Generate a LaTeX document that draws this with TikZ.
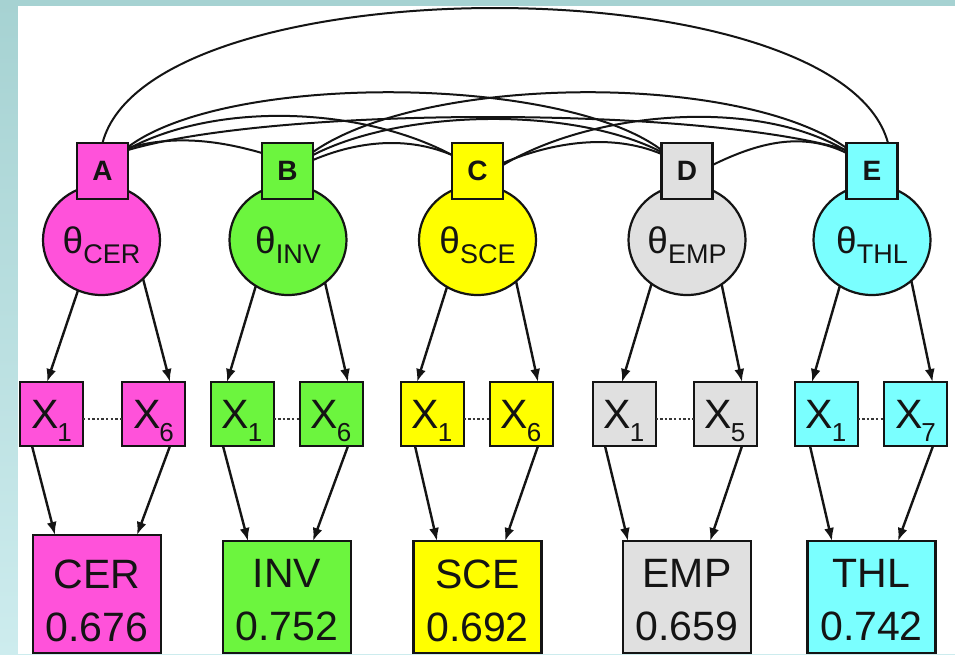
\documentclass[tikz,border=0pt]{standalone}
\usepackage{fontspec}
\usepackage{graphicx}
\setmainfont{Liberation Sans}
\usetikzlibrary{arrows.meta,shapes.geometric}

\definecolor{cmag}{RGB}{255,82,218}
\definecolor{cgrn}{RGB}{108,245,62}
\definecolor{cyel}{RGB}{255,255,0}
\definecolor{cgry}{RGB}{224,224,224}
\definecolor{ccyn}{RGB}{122,255,255}
\definecolor{frameA}{RGB}{166,210,210}
\definecolor{frameB}{RGB}{205,236,238}
\definecolor{ink}{RGB}{20,20,20}

% lowered subscript used inside the factor circles and indicator boxes
\newcommand\lowsub[3]{\raisebox{-#1}{\fontsize{#2}{#2}\selectfont #3}}

\begin{document}
\begin{tikzpicture}[x=1pt,y=-1pt,
  every node/.style={inner sep=0pt, outer sep=0pt, text=ink},
  factor/.style={ellipse, draw=ink, line width=2.2pt, minimum width=117pt,
    minimum height=110pt, text depth=0pt, font=\fontsize{37}{37}\selectfont},
  tag/.style={rectangle, draw=ink, line width=2.2pt, minimum width=51pt,
    minimum height=56pt, font=\fontsize{28}{28}\selectfont\bfseries},
  item/.style={rectangle, draw=ink, line width=2pt, minimum width=63pt,
    minimum height=64pt, text depth=0pt, font=\fontsize{41}{41}\selectfont},
  scorebox/.style={rectangle, draw=ink, line width=2.2pt, minimum width=128pt},
  scoretext/.style={align=center, font=\fontsize{41}{53}\selectfont},
  load/.style={draw=ink, line width=2.4pt, -{Latex[length=13pt,width=10pt]}},
  cov/.style={draw=ink, line width=2pt},
  dots/.style={draw=ink!85, line width=2.4pt, dash pattern=on 2.4pt off 2.2pt}
]
% frame and canvas
\useasboundingbox (0,0) rectangle (955,654);
\shade[top color=frameA, bottom color=frameB] (0,0) rectangle (955,654);
\fill[white] (18,6) rectangle (955,654);

% latent factors
\node[factor, fill=cmag] (fA) at (101.5,240) {θ\lowsub{10pt}{27}{CER}};
\node[factor, fill=cgrn] (fB) at (288,240)   {θ\lowsub{10pt}{27}{INV}};
\node[factor, fill=cyel] (fC) at (477.5,240) {θ\lowsub{10pt}{27}{SCE}};
\node[factor, fill=cgry] (fD) at (687,240)   {θ\lowsub{10pt}{27}{EMP}};
\node[factor, fill=ccyn] (fE) at (872,240)   {θ\lowsub{10pt}{27}{THL}};

% factor tags
\node[tag, fill=cmag] (A) at (102.5,171) {A};
\node[tag, fill=cgrn] (B) at (287.5,171) {B};
\node[tag, fill=cyel] (C) at (477.5,171) {C};
\node[tag, fill=cgry] (D) at (687,171)   {D};
\node[tag, fill=ccyn] (E) at (872,171)   {E};

% covariances between factors
\draw[cov] (A.north) .. controls +(47,-180) and +(-48,-180) .. ([xshift=16pt]E.north);
\draw[cov] ([yshift=-5pt]A.north east) .. controls +(45,-13) and +(-45,-13) .. ([yshift=-10pt]B.north west);
\draw[cov] ([yshift=-6pt]A.north east) .. controls +(90,-48) and +(-90,-48) .. ([yshift=-12pt]C.north west);
\draw[cov] ([yshift=-4pt]A.north east) .. controls +(100,-75) and +(-100,-75) .. ([yshift=-7pt]D.north west);
\draw[cov] ([yshift=-7pt]A.north east) .. controls +(150,-44) and +(-148,-44) .. ([yshift=-7pt]E.north west);
\draw[cov] ([yshift=-17pt]B.north east) .. controls +(45,-19) and +(-45,-19) .. ([yshift=-12pt]C.north west);
\draw[cov] ([yshift=-12pt]B.north east) .. controls +(90,-46) and +(-90,-46) .. ([yshift=-9pt]D.north west);
\draw[cov] ([yshift=-9pt]B.north east) .. controls +(110,-77) and +(-110,-77) .. ([yshift=-5pt]E.north west);
\draw[cov] ([yshift=-20pt]C.north east) .. controls +(50,-21) and +(-50,-21) .. ([yshift=-11pt]D.north west);
\draw[cov] ([yshift=-22pt]C.north east) .. controls +(90,-54) and +(-90,-54) .. ([yshift=-8pt]E.north west);
\draw[cov] ([yshift=-22pt]D.north east) .. controls +(45,-22) and +(-45,-22) .. ([yshift=-10pt]E.north west);

% indicator boxes
\node[item, fill=cmag] (a1) at (51.5,414)  {X\kern-1pt\lowsub{13pt}{26}{1}};
\node[item, fill=cmag] (a6) at (153.5,414) {X\kern-1pt\lowsub{13pt}{26}{6}};
\node[item, fill=cgrn] (b1) at (242,414)   {X\kern-1pt\lowsub{13pt}{26}{1}};
\node[item, fill=cgrn] (b6) at (331,414)   {X\kern-1pt\lowsub{13pt}{26}{6}};
\node[item, fill=cyel] (c1) at (432,414)   {X\kern-1pt\lowsub{13pt}{26}{1}};
\node[item, fill=cyel] (c6) at (521,414)   {X\kern-1pt\lowsub{13pt}{26}{6}};
\node[item, fill=cgry] (d1) at (624,414)   {X\kern-1pt\lowsub{13pt}{26}{1}};
\node[item, fill=cgry] (d5) at (725,414)   {X\kern-1pt\lowsub{13pt}{26}{5}};
\node[item, fill=ccyn] (e1) at (826,414)   {X\kern-1pt\lowsub{13pt}{26}{1}};
\node[item, fill=ccyn] (e7) at (915.5,414) {X\kern-1pt\lowsub{13pt}{26}{7}};

\draw[dots] ([yshift=-5pt]a1.east) -- ([yshift=-5pt]a6.west);
\draw[dots] ([yshift=-5pt]b1.east) -- ([yshift=-5pt]b6.west);
\draw[dots] ([yshift=-5pt]c1.east) -- ([yshift=-5pt]c6.west);
\draw[dots] ([yshift=-5pt]d1.east) -- ([yshift=-5pt]d5.west);
\draw[dots] ([yshift=-5pt]e1.east) -- ([yshift=-5pt]e7.west);

% scale score boxes
\node[scorebox, fill=cmag, minimum height=118pt] (sA) at (97,594)   {};
\node[scorebox, fill=cgrn, minimum height=112pt] (sB) at (287,597)  {};
\node[scorebox, fill=cyel, minimum height=112pt] (sC) at (477.5,597) {};
\node[scorebox, fill=cgry, minimum height=112pt] (sD) at (687,597)  {};
\node[scorebox, fill=ccyn, minimum height=112pt] (sE) at (871.5,597) {};
\node[scoretext] (tA) at (97,600.5)    {CER\\0.676};
\node[scoretext] (tB) at (287,600.5)   {INV\\0.752};
\node[scoretext] (tC) at (477.5,600.5) {SCE\\0.692};
\node[scoretext] (tD) at (687,600.5)   {EMP\\0.659};
\node[scoretext] (tE) at (871.5,600.5) {THL\\0.742};

% loadings: factor to indicators
\draw[load] (fA.245) -- ([xshift=-4.5pt]a1.north);
\draw[load] (fA.317) -- ([xshift=16.5pt]a6.north);
\draw[load] (fB.235) -- ([xshift=-15pt]b1.north);
\draw[load] (fB.311) -- ([xshift=17pt]b6.north);
\draw[load] (fC.237) -- ([xshift=-15pt]c1.north);
\draw[load] (fC.313) -- ([xshift=17pt]c6.north);
\draw[load] (fD.231) -- ([xshift=-2pt]d1.north);
\draw[load] (fD.308) -- ([xshift=17pt]d5.north);
\draw[load] (fE.235) -- ([xshift=-14pt]e1.north);
\draw[load] (fE.314) -- ([xshift=17pt]e7.north);

% indicators to scale scores
\draw[load] ([xshift=-19.5pt]a1.south) -- ([xshift=-42pt]sA.north);
\draw[load] ([xshift=16.5pt]a6.south)  -- ([xshift=40pt]sA.north);
\draw[load] ([xshift=-19pt]b1.south)   -- ([xshift=-39pt]sB.north);
\draw[load] ([xshift=17pt]b6.south)    -- ([xshift=26pt]sB.north);
\draw[load] ([xshift=-17pt]c1.south)   -- ([xshift=-40.5pt]sC.north);
\draw[load] ([xshift=17pt]c6.south)    -- ([xshift=27.5pt]sC.north);
\draw[load] ([xshift=-19pt]d1.south)   -- ([xshift=-59pt]sD.north);
\draw[load] ([xshift=17pt]d5.south)    -- ([xshift=23pt]sD.north);
\draw[load] ([xshift=-16pt]e1.south)   -- ([xshift=-39.5pt]sE.north);
\draw[load] ([xshift=17.5pt]e7.south)  -- ([xshift=26.5pt]sE.north);
\end{tikzpicture}
\end{document}
